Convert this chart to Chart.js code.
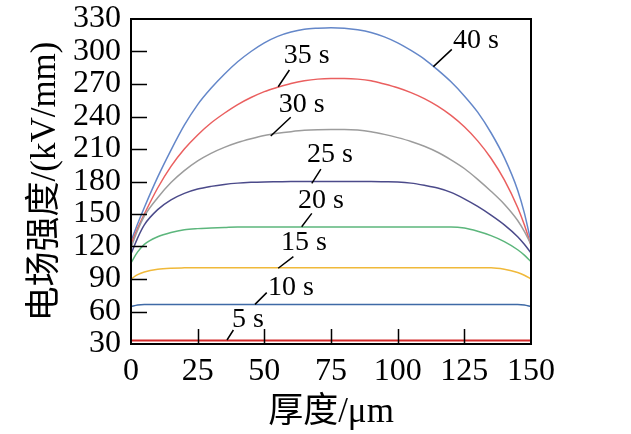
<!DOCTYPE html>
<html>
<head>
<meta charset="utf-8">
<script src="https://cdn.jsdelivr.net/npm/chart.js@4/dist/chart.umd.min.js"></script>
<style>
html,body{margin:0;padding:0;background:#fff;}
#wrap{width:631px;height:434px;}
</style>
</head>
<body>
<div id="wrap"><canvas id="c" width="631" height="434"></canvas></div>
<script>
// thickness positions (µm)
const thickness = [0, 2.5, 5, 10, 15, 20, 25, 30, 35, 40, 45, 50, 55, 60, 65, 70, 75, 80, 85, 90, 95, 100, 105, 110, 115, 120, 125, 130, 135, 140, 145, 147.5, 150];

// field strength (kV/mm) for each time
const s40 = [125, 141, 156, 184, 209, 232, 251, 266, 279, 290.5, 300, 308, 314, 318, 320.5, 321.5, 322, 321.5, 320, 317.5, 313.5, 308, 301, 293, 283, 272, 259, 244, 225, 202, 172, 151, 124];
const s35 = [122, 137, 150, 174, 194, 210, 223, 234, 243, 251, 257.5, 263, 267, 270.5, 273, 274.5, 275, 275, 274.5, 273, 270, 266.5, 262, 256.5, 249.5, 241, 230.5, 217.5, 201.5, 181.5, 156, 140, 121];
const s30 = [119, 135, 148, 165, 179, 190, 199, 206, 211.5, 216, 219.5, 222.5, 224.5, 226, 227.2, 227.8, 228, 228, 227.5, 226, 223.5, 220.5, 217, 212.5, 207, 200, 192, 182, 171, 159, 144, 134, 122];
const s25 = [113, 128, 140, 154, 163, 169, 173, 175.5, 177.3, 178.5, 179.2, 179.6, 179.8, 180, 180, 180, 180, 180, 180, 180, 179.8, 179.5, 178.5, 176.5, 174, 170, 164, 157, 149, 140, 129, 122, 114];
const s20 = [105, 115, 122, 129, 133, 135.5, 136.5, 137, 137.5, 138, 138, 138, 138, 138, 138, 138, 138, 138, 138, 138, 138, 138, 138, 138, 138, 138, 137, 134, 130, 124.5, 117, 112, 106];
const s15 = [90, 94, 96.5, 99, 100, 100.3, 100.4, 100.4, 100.4, 100.4, 100.4, 100.4, 100.4, 100.4, 100.4, 100.4, 100.4, 100.4, 100.4, 100.4, 100.4, 100.4, 100.4, 100.4, 100.4, 100.4, 100.4, 100.4, 100.4, 99, 96, 93.5, 90];
const s10 = [64.5, 66, 66.5, 66.5, 66.5, 66.5, 66.5, 66.5, 66.5, 66.5, 66.5, 66.5, 66.5, 66.5, 66.5, 66.5, 66.5, 66.5, 66.5, 66.5, 66.5, 66.5, 66.5, 66.5, 66.5, 66.5, 66.5, 66.5, 66.5, 66.5, 66.5, 66, 64.5];
const s5  = [33.3, 33.3, 33.3, 33.3, 33.3, 33.3, 33.3, 33.3, 33.3, 33.3, 33.3, 33.3, 33.3, 33.3, 33.3, 33.3, 33.3, 33.3, 33.3, 33.3, 33.3, 33.3, 33.3, 33.3, 33.3, 33.3, 33.3, 33.3, 33.3, 33.3, 33.3, 33.3, 33.3];

const seriesNames = ['5 s', '10 s', '15 s', '20 s', '25 s', '30 s', '35 s', '40 s'];
const seriesValues = [s5, s10, s15, s20, s25, s30, s35, s40];
const seriesColors = ['#d42a2a', '#3f6aa6', '#f0b93a', '#5cb67c', '#4b4a8a', '#9c9c9c', '#ea5f5f', '#6487c9'];

const xTicks = [0, 25, 50, 75, 100, 125, 150];
const yTicks = [30, 60, 90, 120, 150, 180, 210, 240, 270, 300, 330];

// curve labels: text baseline-centre and leader line (in data units)
const labelText = ['40 s', '35 s', '30 s', '25 s', '20 s', '15 s', '10 s', '5 s'];
const labelAt   = [[129.4, 303.2], [65.9, 289.1], [64, 244.2], [74.6, 198], [71.2, 155.5], [64.9, 116.8], [60, 75.2], [43.9, 45.7]];
const leaderFrom = [[120.3, 302], [59.4, 282.9], [59.9, 239.3], [71.2, 191.5], [67.8, 150.6], [60.9, 110.6], [50.9, 77.4], [38.4, 42.9]];
const leaderTo   = [[113.4, 286], [55.2, 267.5], [52.4, 222], [67.8, 178.3], [64, 138.3], [55.2, 99.9], [46.5, 66.6], [36, 33.7]];

const SERIF = '"Liberation Serif", "Times New Roman", "Noto Sans CJK SC", serif';

const datasets = seriesValues.map((vals, i) => ({
  label: seriesNames[i],
  data: thickness.map((x, j) => ({x: x, y: vals[j]})),
  borderColor: seriesColors[i],
  backgroundColor: seriesColors[i],
  borderWidth: i === 0 ? 2 : 1.5,
  pointRadius: 0,
  fill: false,
  cubicInterpolationMode: 'monotone'
}));

const framePlugin = {
  id: 'frame',
  afterDatasetsDraw(chart) {
    const {ctx, chartArea: a, scales: {x, y}} = chart;
    ctx.save();
    ctx.strokeStyle = '#000';
    ctx.lineWidth = 2;
    ctx.beginPath();
    ctx.rect(a.left, a.top, a.right - a.left, a.bottom - a.top);
    ctx.stroke();
    ctx.lineWidth = 1.5;
    ctx.beginPath();
    yTicks.forEach(v => {
      if (v === yTicks[0] || v === yTicks[yTicks.length - 1]) return;
      const py = Math.round(y.getPixelForValue(v)) + 0.5;
      ctx.moveTo(a.left, py); ctx.lineTo(a.left + 16, py);
    });
    xTicks.forEach(v => {
      if (v === xTicks[0] || v === xTicks[xTicks.length - 1]) return;
      const px = Math.round(x.getPixelForValue(v)) + 0.5;
      ctx.moveTo(px, a.bottom); ctx.lineTo(px, a.bottom - 15);
    });
    ctx.stroke();
    // curve labels
    ctx.lineWidth = 1.5;
    ctx.beginPath();
    leaderFrom.forEach((p, i) => {
      ctx.moveTo(x.getPixelForValue(p[0]), y.getPixelForValue(p[1]));
      ctx.lineTo(x.getPixelForValue(leaderTo[i][0]), y.getPixelForValue(leaderTo[i][1]));
    });
    ctx.stroke();
    ctx.fillStyle = '#000';
    ctx.font = '28px ' + SERIF;
    ctx.textAlign = 'center';
    ctx.textBaseline = 'alphabetic';
    labelText.forEach((t, i) => {
      ctx.fillText(t, x.getPixelForValue(labelAt[i][0]), y.getPixelForValue(labelAt[i][1]));
    });
    ctx.restore();
  }
};

new Chart(document.getElementById('c'), {
  type: 'line',
  data: {datasets},
  options: {
    responsive: false,
    animation: false,
    devicePixelRatio: 1,
    layout: {padding: {top: 19, right: 100, left: 0, bottom: 0}},
    plugins: {legend: {display: false}, tooltip: {enabled: false}},
    scales: {
      x: {
        type: 'linear', min: 0, max: 150,
        afterBuildTicks: s => { s.ticks = xTicks.map(v => ({value: v})); },
        afterFit: s => { s.height = 90; s.paddingLeft = 0; s.paddingRight = 0; },
        grid: {display: false, drawTicks: false},
        border: {display: false},
        ticks: {color: '#000', padding: 8, maxRotation: 0, autoSkip: false, font: {family: SERIF, size: 32}},
        title: {display: true, text: '厚度/μm', color: '#000', padding: {top: 0, bottom: 4}, font: {family: SERIF, size: 35, lineHeight: 1}}
      },
      y: {
        type: 'linear', min: 30, max: 330,
        afterBuildTicks: s => { s.ticks = yTicks.map(v => ({value: v})); },
        afterFit: s => { s.width = 131; s.paddingTop = 0; s.paddingBottom = 0; },
        grid: {display: false, drawTicks: false},
        border: {display: false},
        ticks: {color: '#000', padding: 10, autoSkip: false, font: {family: SERIF, size: 32}},
        title: {display: true, text: '电场强度/(kV/mm)', color: '#000', padding: {top: 28, bottom: 0}, font: {family: SERIF, size: 35, lineHeight: 1}}
      }
    }
  },
  plugins: [framePlugin]
});
</script>
</body>
</html>
